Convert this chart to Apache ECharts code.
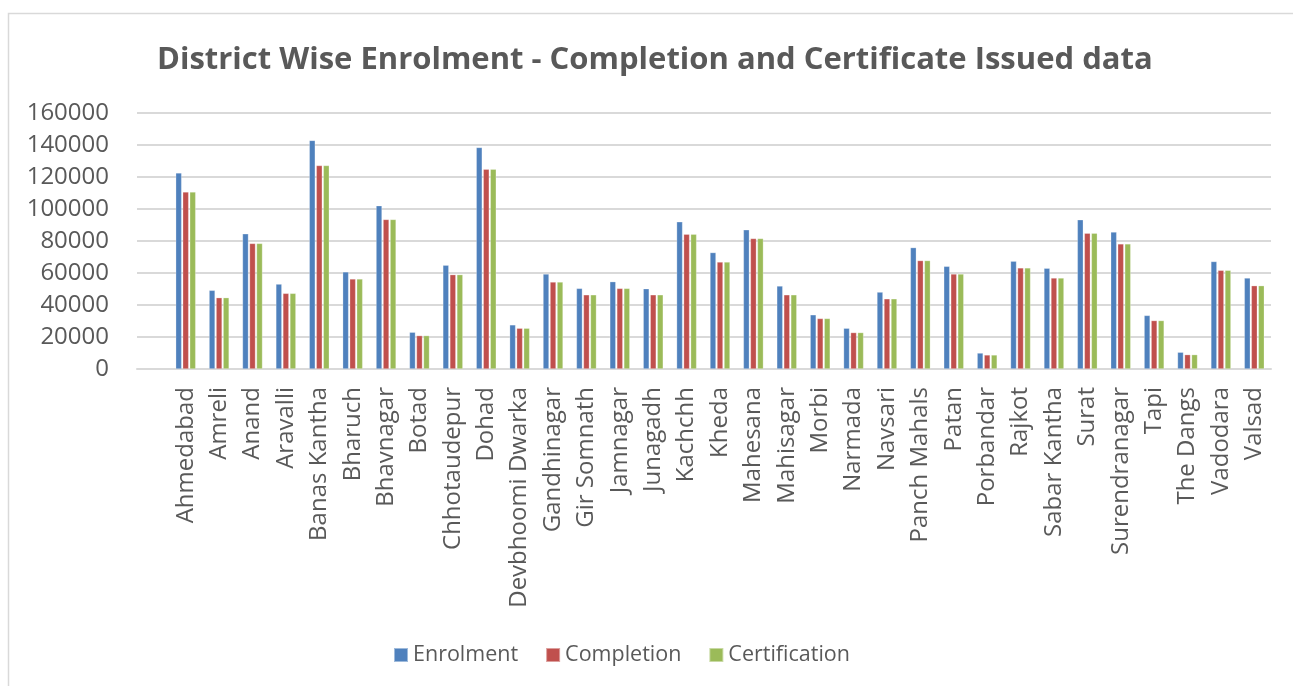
<!DOCTYPE html>
<html>
<head>
<meta charset="utf-8">
<script src="https://cdn.jsdelivr.net/npm/echarts@6/dist/echarts.min.js"></script>
<style>
html,body{margin:0;padding:0;background:#fff;}
#chart{width:1293px;height:686px;}
</style>
</head>
<body>
<div id="chart"></div>
<script>
const districts = ["Ahmedabad","Amreli","Anand","Aravalli","Banas Kantha","Bharuch","Bhavnagar","Botad","Chhotaudepur","Dohad","Devbhoomi Dwarka","Gandhinagar","Gir Somnath","Jamnagar","Junagadh","Kachchh","Kheda","Mahesana","Mahisagar","Morbi","Narmada","Navsari","Panch Mahals","Patan","Porbandar","Rajkot","Sabar Kantha","Surat","Surendranagar","Tapi","The Dangs","Vadodara","Valsad"];
const enrolment = [122600,49200,84500,53100,142900,60700,102100,23000,64900,138500,27600,59400,50400,54600,50200,92000,72800,87000,51900,33900,25500,48100,75900,64200,10000,67400,63000,93300,85600,33500,10500,67200,56900];
const completion = [110700,44600,78500,47300,127200,56300,93500,20900,59000,124900,25500,54400,46400,50400,46400,84300,66900,81600,46400,31600,22800,43900,67800,59400,8800,63200,56900,84900,78200,30300,9000,61700,52100];
const certification = [110700,44600,78500,47300,127200,56300,93500,20900,59000,124900,25500,54400,46400,50400,46400,84300,66900,81600,46400,31600,22800,43900,67800,59400,8800,63200,56900,84900,78200,30300,9000,61700,52100];
const seriesNames = ["Enrolment","Completion","Certification"];
const colors = ["#4F81BD","#C0504D","#9BBB59"];
const titleText = "District Wise Enrolment - Completion and Certificate Issued data";
const yMin = 0, yMax = 160000, yStep = 20000;

const chart = echarts.init(document.getElementById('chart'), null, {renderer:'canvas'});
const font = "'Open Sans', sans-serif";
const txt = "#595959";
const values = [enrolment, completion, certification];
chart.setOption({
  animation:false,
  backgroundColor:'#fff',
  graphic:[{type:'rect', shape:{x:8.5,y:13.5,width:1290,height:700}, style:{fill:'none',stroke:'#d9d9d9',lineWidth:1.5}, silent:true}],
  title:{text:titleText,left:152,top:40,textStyle:{fontFamily:font,fontWeight:'bold',fontSize:31,color:txt}},
  legend:{data:seriesNames,left:388,top:639,itemWidth:14,itemHeight:14,itemGap:27,icon:'rect',
    textStyle:{fontFamily:font,fontSize:21.5,color:txt}},
  grid:[
    {left:137,right:22,top:113,bottom:317,containLabel:false},
    {left:169,right:22,top:113,bottom:317,containLabel:false}
  ],
  xAxis:[
    {gridIndex:0,type:'category',data:[''],axisLine:{lineStyle:{color:'#d9d9d9',width:2}},axisTick:{show:false},axisLabel:{show:false}},
    {gridIndex:1,type:'category',data:districts,
      axisLine:{show:false},axisTick:{show:false},
      axisLabel:{rotate:90,interval:0,margin:18,fontFamily:font,fontSize:24,color:txt}}
  ],
  yAxis:[
    {gridIndex:0,type:'value',min:yMin,max:yMax,interval:yStep,
      axisLine:{show:false},axisTick:{show:false},
      splitLine:{lineStyle:{color:'#d9d9d9',width:2}},
      axisLabel:{margin:28,fontFamily:font,fontSize:24,color:txt,formatter:v=>String(v)}},
    {gridIndex:1,type:'value',min:yMin,max:yMax,interval:yStep,
      axisLine:{show:false},axisTick:{show:false},splitLine:{show:false},axisLabel:{show:false}}
  ],
  series: seriesNames.map((n,i)=>({name:n,type:'bar',xAxisIndex:1,yAxisIndex:1,data:values[i],barWidth:6,barGap:'17%',
    itemStyle:{color:colors[i],borderColor:'rgba(255,255,255,0.45)',borderWidth:0.6}}))
});
</script>
</body>
</html>
